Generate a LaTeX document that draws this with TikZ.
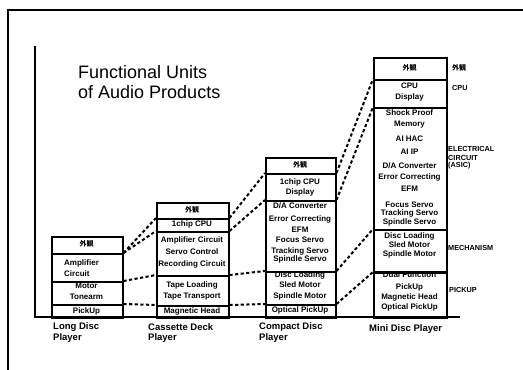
\documentclass[tikz,border=0pt]{standalone}
\usepackage{fontspec}
\setmainfont{Liberation Sans}
\newfontfamily\cjk{Noto Sans CJK JP}
\begin{document}
\begin{tikzpicture}[x=1pt,y=-1pt,
  rowbox/.style={draw, line width=1.5pt, inner sep=0pt, anchor=north west},
  t/.style={font=\fontsize{8}{8}\selectfont\bfseries, inner sep=0pt},
  tj/.style={font=\cjk\fontsize{7}{7}\selectfont\bfseries, inner sep=0pt},
  rl/.style={font=\fontsize{7.3}{7}\selectfont\bfseries, inner sep=0pt, anchor=west},
  lab/.style={font=\fontsize{9.5}{10}\selectfont\bfseries, inner sep=0pt, anchor=west},
  ttl/.style={font=\fontsize{18}{20}\selectfont, inner sep=0pt, anchor=base west},
  link/.style={line width=2pt, dash pattern=on 3.2pt off 2.4pt},
  frame/.style={line width=1.8pt},
  axis/.style={line width=1.6pt}]
\useasboundingbox (0,0) rectangle (523,370);
% outer frame (top and left only)
\coordinate (f1) at (523,10);
\coordinate (f2) at (8,10);
\coordinate (f3) at (8,370);
\draw[frame] (f1) -- (f2) -- (f3);
% axes
\coordinate (a1) at (35,46);
\coordinate (a2) at (35,317);
\coordinate (a3) at (460,317);
\draw[axis] (a1) -- (a2) -- (a3);
% title
\node[ttl] (title1) at (78,78) {Functional Units};
\node[ttl] (title2) at (78,98) {of Audio Products};

% ---------- Long Disc Player ----------
\node[rowbox, minimum width=71pt, minimum height=17pt] (ld1) at (51,236) {};
\node[rowbox, minimum width=71pt, minimum height=28pt] (ld2) at (51,253) {};
\node[rowbox, minimum width=71pt, minimum height=23pt] (ld3) at (51,281) {};
\node[rowbox, minimum width=71pt, minimum height=13pt] (ld4) at (51,304) {};
\node[tj] (ldt1) at (86.5,244) {外観};
\node[t, anchor=west] (ldt2) at (64,263) {Amplifier};
\node[t, anchor=west] (ldt3) at (64,274) {Circuit};
\node[t] (ldt4) at (86.5,286) {Motor};
\node[t] (ldt5) at (86.5,297) {Tonearm};
\node[t] (ldt6) at (86.5,311) {PickUp};
\node[lab] (ldl1) at (53,327) {Long Disc};
\node[lab] (ldl2) at (53,338) {Player};

% ---------- Cassette Deck Player ----------
\node[rowbox, minimum width=72pt, minimum height=16pt] (cs1) at (156,202) {};
\node[rowbox, minimum width=72pt, minimum height=13pt] (cs2) at (156,218) {};
\node[rowbox, minimum width=72pt, minimum height=44pt] (cs3) at (156,231) {};
\node[rowbox, minimum width=72pt, minimum height=30pt] (cs4) at (156,275) {};
\node[rowbox, minimum width=72pt, minimum height=12pt] (cs5) at (156,305) {};
\node[tj] (cst1) at (192,210) {外観};
\node[t] (cst2) at (192,224) {1chip CPU};
\node[t] (cst3) at (192,240) {Amplifier Circuit};
\node[t] (cst4) at (192,252) {Servo Control};
\node[t] (cst5) at (192,264) {Recording Circuit};
\node[t] (cst6) at (192,285) {Tape Loading};
\node[t] (cst7) at (192,297) {Tape Transport};
\node[t] (cst8) at (192,311) {Magnetic Head};
\node[lab] (csl1) at (148,327) {Cassette Deck};
\node[lab] (csl2) at (148,338) {Player};

% ---------- Compact Disc Player ----------
\node[rowbox, minimum width=70pt, minimum height=16pt] (cd1) at (265,157) {};
\node[rowbox, minimum width=70pt, minimum height=27pt] (cd2) at (265,173) {};
\node[rowbox, minimum width=70pt, minimum height=71pt] (cd3) at (265,200) {};
\node[rowbox, minimum width=70pt, minimum height=33pt] (cd4) at (265,271) {};
\node[rowbox, minimum width=70pt, minimum height=13pt] (cd5) at (265,304) {};
\node[tj] (cdt1) at (300,165) {外観};
\node[t] (cdt2) at (300,182) {1chip CPU};
\node[t] (cdt3) at (300,192) {Display};
\node[t] (cdt4) at (300,206) {D/A Converter};
\node[t] (cdt5) at (300,219) {Error Correcting};
\node[t] (cdt6) at (300,230) {EFM};
\node[t] (cdt7) at (300,240) {Focus Servo};
\node[t] (cdt8) at (300,251) {Tracking Servo};
\node[t] (cdt9) at (300,259) {Spindle Servo};
\node[t] (cdt10) at (300,275) {Disc Loading};
\node[t] (cdt11) at (300,285) {Sled Motor};
\node[t] (cdt12) at (300,296) {Spindle Motor};
\node[t] (cdt13) at (300,310.5) {Optical PickUp};
\node[lab] (cdl1) at (259,327) {Compact Disc};
\node[lab] (cdl2) at (259,338) {Player};

% ---------- Mini Disc Player ----------
\node[rowbox, minimum width=73pt, minimum height=22pt] (md1) at (373,57) {};
\node[rowbox, minimum width=73pt, minimum height=28pt] (md2) at (373,79) {};
\node[rowbox, minimum width=73pt, minimum height=122pt] (md3) at (373,107) {};
\node[rowbox, minimum width=73pt, minimum height=43pt] (md4) at (373,229) {};
\node[rowbox, minimum width=73pt, minimum height=45pt] (md5) at (373,272) {};
\node[tj] (mdt1) at (409.5,68) {外観};
\node[t] (mdt2) at (409.5,86) {CPU};
\node[t] (mdt3) at (409.5,97) {Display};
\node[t] (mdt4) at (409.5,113) {Shock Proof};
\node[t] (mdt5) at (409.5,125) {Memory};
\node[t] (mdt6) at (409.5,139) {AI HAC};
\node[t] (mdt7) at (409.5,152) {AI IP};
\node[t] (mdt8) at (409.5,166) {D/A Converter};
\node[t] (mdt9) at (409.5,177) {Error Correcting};
\node[t] (mdt10) at (409.5,189) {EFM};
\node[t] (mdt11) at (409.5,205) {Focus Servo};
\node[t] (mdt12) at (409.5,213) {Tracking Servo};
\node[t] (mdt13) at (409.5,222) {Spindle Servo};
\node[t] (mdt14) at (409.5,236) {Disc Loading};
\node[t] (mdt15) at (409.5,245) {Sled Motor};
\node[t] (mdt16) at (409.5,254) {Spindle Motor};
\node[t] (mdt17) at (409.5,275) {Dual Function};
\node[t] (mdt18) at (409.5,287) {PickUp};
\node[t] (mdt19) at (409.5,297) {Magnetic Head};
\node[t] (mdt20) at (409.5,307) {Optical PickUp};
\node[lab] (mdl1) at (369,329) {Mini Disc Player};
% redraw divider over the clipped text
\draw[line width=1.5pt] (md5.north west) -- (md5.north east);

% right-hand labels
\node[tj, anchor=west] (r1) at (452,68) {外観};
\node[rl] (r2) at (452,88) {CPU};
\node[rl] (r3) at (448,149) {ELECTRICAL};
\node[rl] (r4) at (448,157.5) {CIRCUIT};
\node[rl] (r5) at (448,166) {(ASIC)};
\node[rl] (r6) at (448,248) {MECHANISM};
\node[rl] (r7) at (449,290) {PICKUP};

% ---------- dashed connectors ----------
\draw[link] (ld2.north east) -- (cs2.north west);
\draw[link] (ld2.north east) -- (cs3.north west);
\draw[link] (ld3.north east) -- (cs4.north west);
\draw[link] (ld4.north east) -- (cs5.north west);
\draw[link] (cs2.north east) -- (cd2.north west);
\draw[link] (cs3.north east) -- (cd3.north west);
\draw[link] (cs4.north east) -- (cd4.north west);
\draw[link] (cs5.north east) -- (cd5.north west);
\draw[link] (cd2.north east) -- (md2.north west);
\draw[link] (cd3.north east) -- (md3.north west);
\draw[link] (cd4.north east) -- (md4.north west);
\draw[link] (cd5.north east) -- (md5.north west);
\end{tikzpicture}
\end{document}
